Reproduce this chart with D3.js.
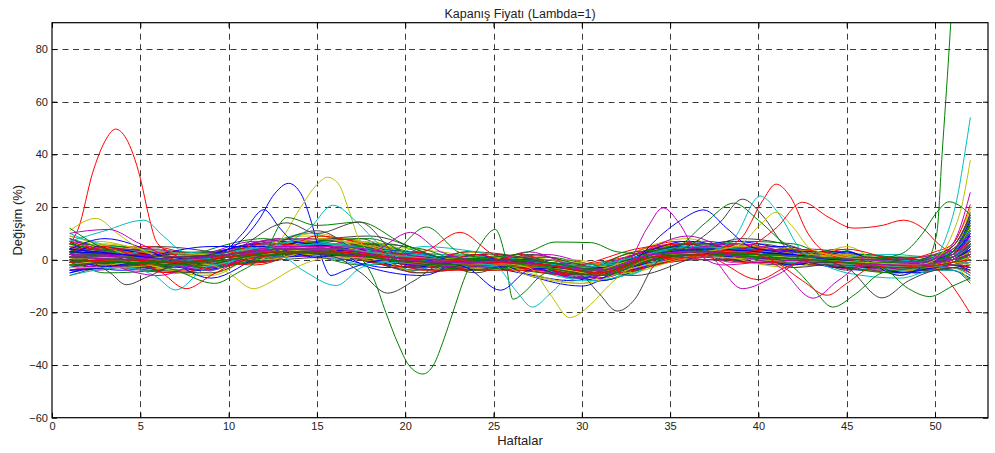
<!DOCTYPE html>
<html>
<head>
<meta charset="utf-8">
<script src="https://cdn.jsdelivr.net/npm/d3@7"></script>
<style>
  body { margin: 0; background: #fff; }
</style>
</head>
<body>
<script>
const TITLE = 'Kapanış Fiyatı (Lambda=1)';
const X_LABEL = 'Haftalar';
const Y_LABEL = 'Değişim (%)';

const X_TICKS = [0, 5, 10, 15, 20, 25, 30, 35, 40, 45, 50];
const Y_TICKS = [-60, -40, -20, 0, 20, 40, 60, 80];

const BAND_WEEKS = [1, 4, 7, 10, 13, 16, 19, 22, 25, 28, 31, 34, 37, 40, 43, 46, 49, 51, 52];

const BAND_VALUES = [
  [ 3,  2,  0,  2,  5,  6,  3,  0,  0, -1, -4,  2,  4,  3,  2,  0, -1,  1,  6],
  [-1, -2, -3, -1,  2,  3,  0, -2, -2, -3, -6,  0,  2,  1,  0, -2, -3, -2,  0],
  [ 5,  3,  1,  3,  6,  5,  2,  1,  0, -1, -3,  3,  5,  3,  2,  1, -1,  2,  9],
  [ 0,  0, -2,  0,  3,  4,  1, -1, -1, -3, -6,  1,  2,  2,  0, -1, -3, -1,  2],
  [ 2,  1, -1,  2,  5,  3,  2,  0, -1, -2, -5,  2,  3,  1,  1,  0, -2,  1,  7],
  [-3, -2, -4, -2,  1,  2, -1, -3, -2, -4, -7, -1,  1,  0, -1, -3, -4, -3, -4],
  [ 4,  4,  2,  2,  6,  7,  4,  1,  1, -1, -3,  3,  5,  4,  3,  1,  0,  2, 10],
  [ 1,  0, -1,  1,  4,  4,  2, -1,  0, -2, -5,  1,  3,  2,  1, -1, -2,  0,  3],
  [ 6,  5,  2,  4,  8,  7,  3,  1,  1,  0, -2,  4,  6,  4,  3,  2,  0,  3, 12],
  [-2, -1, -3, -1,  2,  2,  0, -2, -2, -3, -6,  0,  1,  1,  0, -2, -3, -2, -1],
  [ 2,  2,  0,  1,  4,  5,  2,  0, -1, -2, -4,  2,  4,  3,  1,  0, -1,  1,  5],
  [ 0, -1, -2,  0,  3,  3,  0, -1,  0, -2, -5,  1,  2,  1,  0, -1, -2,  0,  1],
  [ 3,  3,  1,  2,  5,  5,  3,  1,  0, -1, -4,  2,  4,  3,  2,  0, -1,  1,  8],
  [-4, -3, -5, -2,  0,  1, -2, -4, -3, -4, -8, -2,  0, -1, -2, -3, -5, -3, -6],
  [ 1,  1, -1,  1,  4,  4,  1, -1, -1, -2, -5,  2,  3,  2,  1, -1, -2,  0,  4],
  [ 4,  2,  0,  3,  6,  5,  2,  0,  0, -1, -4,  3,  4,  2,  2,  0, -1,  2,  8],
  [-1,  0, -2,  0,  3,  3,  1, -1, -1, -3, -6,  0,  2,  2,  0, -1, -3, -1,  1],
  [ 2,  1,  0,  2,  5,  6,  2,  0,  0, -2, -4,  2,  3,  2,  1,  0, -2,  0,  5],
  [ 7,  4,  1,  3,  7,  6,  3,  2,  1,  0, -3,  3,  5,  4,  3,  1,  0,  3, 14],
  [ 0,  1, -1,  0,  3,  4,  1, -1, -1, -2, -5,  1,  3,  1,  0, -1, -2, -1,  2],
  [-2,  1,  2, -1,  1,  6,  4, -2, -3,  0, -4, -1,  4,  5, -1, -3,  0,  2,  3],
  [ 4, -1, -3,  3,  7,  2, -1,  1,  2, -3, -7,  3,  2, -1,  2,  1, -3, -2, -3],
  [ 1,  4,  1, -2,  2,  8,  5,  0, -2, -4, -3,  4,  6,  1, -2,  0,  1,  3, 11],
  [ 6,  1, -4, -2,  6,  4, -2, -3,  1,  1, -6, -2,  1,  4,  3, -2, -4,  1,  6],
  [-3,  0,  3,  2,  2,  3,  3,  1, -3, -5, -8,  0,  5,  2,  0,  2, -1, -1, -2],
  [ 2, -2, -2,  4,  8,  5,  0, -4, -1,  2, -2,  2,  0,  1,  4,  1, -2,  0,  2],
  [ 0,  3,  0, -1,  5,  7,  2,  2,  0, -3, -6,  5,  3,  0,  1, -2, -3,  2, 13],
  [ 5,  2,  3,  1,  1,  5,  6,  0, -2, -1, -4, -1,  2,  6,  2, -1, -1, -1,  4],
  [-5, -1, -2,  1,  4,  1, -3, -1,  1, -2, -7,  2,  4,  3, -1, -4, -3, -4, -7],
  [ 3,  5,  2,  0,  3,  6,  3, -3, -4, -2, -3,  3,  7,  3,  0,  1,  1,  4, 16],
  [ 1, -3, -5,  0,  6,  7,  1,  1,  2, -1, -5,  0,  1,  2,  3,  0, -4, -2,  1],
  [ 8,  3,  0,  2,  4,  3,  2,  0,  0, -3, -6,  1,  4,  1,  0, -1, -2,  0,  5],
  [-2,  2,  1,  3,  5,  2, -1, -2, -2, -4, -5,  3,  3,  4,  2, -2, -3,  1,  8],
  [ 2,  0, -3, -1,  3,  7,  5,  3,  0, -1, -4,  1,  2,  0, -1,  0, -1,  0,  2],
  [ 4,  3,  0,  4,  7,  4,  0, -2,  1,  0, -3,  4,  5,  3,  1, -1, -3,  3, 18],
  [-1, -4, -2,  2,  1,  2,  2, -1, -3, -3, -8, -2,  2,  3,  1, -3, -5, -2, -5],
  [ 0,  2,  3,  0,  4,  5,  0, -3, -1,  1, -2,  2,  4,  0,  2,  2,  0,  1,  6],
  [ 3,  1, -2,  1,  6,  8,  4,  0, -2, -4, -7,  0,  3,  5,  3,  0, -2, -1,  3],
  [ 9,  4, -1,  0,  2,  4,  3,  2,  0, -2, -5,  2,  1,  2,  0, -2, -3,  0,  7],
  [-4, -2,  0,  3,  6,  3,  1,  0, -1, -2, -4,  3,  5,  2, -1, -1, -2,  2, 10],
  [ 1,  3,  1, -1,  2,  4,  2, -1,  1, -1, -6,  1,  3,  3,  2, -1, -4, -3, -8],
  [ 5,  0, -2,  2,  5,  6,  3,  1, -1, -3, -5,  1,  2,  1,  0, -3, -2,  1,  9],
  [-1,  1, -1,  1,  3,  3,  1,  0, -2, -3, -6,  2,  4,  4,  2,  0, -1,  2, 12],
  [ 2,  2,  0,  2,  4,  5,  2, -1,  0, -1, -4,  1,  3,  2,  1, -1, -3, -1,  0],
  [ 0, -1, -1,  0,  2,  4,  2,  1,  0, -2, -5,  0,  2,  1,  0, -2, -3,  0,  4],
  [ 3,  0, -2,  1,  5,  5,  1, -2, -1, -2, -6,  2,  3,  2,  1,  0, -2,  1, 15],
  [-2, -3, -3,  0,  3,  2,  0, -1, -1, -4, -7,  0,  2,  2, -1, -2, -4, -2, -3],
  [ 4,  2,  1,  2,  5,  6,  3,  1,  1, -1, -3,  2,  4,  3,  2,  1, -1,  2, 20],
  [ 1,  0, -2,  1,  4,  4,  2,  0, -1, -2, -4,  2,  3,  1,  1, -1, -2,  0,  6],
  [ 2,  1,  0,  0,  4,  5,  1, -1, -1, -3, -5,  1,  2,  2,  0, -1, -1,  1, 10]
];

// a second set of band curves, read at weeks in between
const BAND_WEEKS_B = [1, 2.5, 5.5, 8.5, 11.5, 14.5, 17.5, 20.5, 23.5, 26.5, 29.5, 32.5, 35.5, 38.5, 41.5, 44.5, 47.5, 50, 51, 52];

const BAND_VALUES_B = [
  [ 6,  4,  3, -3,  0,  8,  5, -4,  2, -3, -1, -6,  4,  6, -2,  3, -4,  1,  3,  9],
  [-3, -1,  4,  2,  6,  1,  0,  3, -4,  2, -7,  1,  6, -1,  4, -3,  1, -3, -2, -1],
  [ 2,  6, -2, -5,  5,  9,  7,  1, -3, -4,  0, -4,  1,  5,  3, -2, -5,  0,  4, 12],
  [ 4, -2,  1,  3, -1,  5,  8, -3,  3,  1, -6, -3,  5,  2, -1,  2,  0, -2, -1,  2],
  [-5, -3, -1, -4,  1,  7,  2,  2, -1, -5, -8,  0,  3,  7,  4, -1, -3, -1,  1,  6],
  [ 8,  5,  2,  0,  4,  2, -2, -1,  1,  0, -2, -5,  2,  3,  0,  4, -2,  2,  5, 16],
  [ 0,  3,  5,  1, -2,  4,  6, -5, -3,  2, -4,  2,  7,  1,  2, -3, -4, -3, -3, -5],
  [ 3,  0, -4, -3,  4, 10,  4,  0,  2, -2, -7, -1,  3,  4,  3,  1,  2,  1,  2,  8],
  [-2, -4,  0,  2,  7,  3,  1,  3, -2, -3, -5, -3,  0,  2,  1, -2, -3, -2,  0,  3],
  [ 5,  7,  3, -2,  1,  6,  3, -2,  0,  1, -1, -2,  4,  6,  2,  2,  0,  2,  6, 19],
  [ 1, -1, -3,  0,  3,  5,  6,  2, -4, -2, -6,  0,  5,  0, -2, -1, -5, -4, -4, -9],
  [ 7,  2,  0, -4,  2,  7,  1, -3,  1, -1, -3, -4,  2,  4,  5,  0, -1,  0,  2, 11],
  [-1,  2,  3,  1,  5,  2,  4,  1, -2, -4, -6, -2,  3,  1,  0,  1, -2, -1,  1,  5],
  [ 3,  5, -1, -2,  0,  5,  2, -2,  3,  0, -2,  1,  6,  3, -1, -2, -3,  1,  3, 13],
  [10,  6,  1, -3,  3,  6,  4,  0, -1, -2, -4, -3,  1,  5,  2,  0,  0, -1,  0,  4],
  [-4, -2,  2,  0,  4,  4,  2, -1, -3, -1, -5, -1,  4,  2,  1, -1, -4, -2, -1,  1],
  [ 2,  1, -2, -6,  1,  8,  6,  2,  0, -3, -2, -5,  0,  3,  3,  2, -2,  0,  2,  7],
  [ 4,  3,  4,  2,  2,  3,  0, -4, -2,  1, -6,  0,  3,  0,  0, -1, -1,  1,  4, 10],
  [ 0, -2, -2,  1,  6,  5,  3,  1,  1, -2, -4, -2,  5,  4,  2, -3, -3, -2, -2, -3],
  [ 6,  4,  1, -1,  2,  4,  5,  1, -1, -1, -3, -1,  2,  3,  1,  1, -1,  1,  3, 14],
  [-2,  0,  2, -2,  3,  6,  2, -2,  0, -3, -5, -3,  3,  5,  3,  0, -2, -1,  0,  3],
  [ 3,  1, -1,  0,  5,  7,  4,  2,  0, -1, -2,  0,  4,  2,  0, -2, -4, -3, -3, -6],
  [ 1,  3,  1, -3,  1,  3,  3,  0, -2,  0, -6, -4,  1,  4,  2,  1,  0,  2,  5, 17],
  [ 5,  2,  3,  1,  4,  2,  0, -1,  1, -2, -3, -2,  4,  1,  1,  0, -2, -1,  1,  6],
  [-3, -1, -1, -2,  2,  5,  4,  1, -1, -2, -5, -1,  2,  3,  0, -1, -3, -2, -1,  2],
  [ 2,  5,  2,  0,  3,  5,  2, -2, -2,  0, -3, -3,  3,  4,  3,  1, -1,  0,  3,  9],
  [ 4,  0, -2, -2,  3,  6,  5,  1,  0, -2, -4,  0,  3,  1,  0, -1, -2,  0,  2,  7],
  [-1,  1,  3,  1,  1,  3,  1, -1, -1, -1, -5, -3,  2,  3,  2,  0, -2, -2, -2, -1],
  [ 3,  2,  0, -1,  4,  5,  3,  0,  0, -1, -3, -1,  3,  2,  1,  0, -1,  1,  3, 11],
  [ 0,  1, -1, -1,  2,  4,  2,  0, -1, -2, -4, -2,  2,  2,  1, -1, -2, -1,  0,  5]
];

// a third, looser set of band curves
const BAND_WEEKS_C = [1, 3, 6, 9, 12, 15, 18, 21, 24, 27, 30, 33, 36, 39, 42, 45, 48, 50, 51, 52];

const BAND_VALUES_C = [
  [ 9,  5, -3, -6,  5, 10,  2, -5,  3, -5, -9,  3,  8,  0, -3,  5, -6,  2,  4, 12],
  [-6, -2,  5,  3, -1,  7,  9,  3, -5,  2, -2, -6,  0,  8,  5, -4,  1, -4, -3, -2],
  [ 4,  8,  2, -7,  2,  6, -3, -6,  2, -6,-10,  1,  7,  3, -2,  3, -6,  0,  3, 15],
  [ 1, -5, -4,  4,  8,  3,  6,  4, -2,  1, -6, -4,  2,  7,  6, -3, -5, -2,  0,  6],
  [ 7,  4,  4, -2, -1,  9,  5, -4, -4, -4, -2,  4,  6, -1, -1,  4,  0,  3,  6, 21],
  [-3,  3, -1, -4,  6,  2, -2,  5,  3, -1, -8, -5,  5,  4,  2, -5, -7, -4, -4, -8],
  [ 5, -1, -6,  1,  7,  8,  3, -2, -3,  3, -3,  2,  9,  2,  0,  2, -3,  1,  2,  9],
  [ 0,  6,  3,  2,  0,  4,  7,  0,  1, -6, -9, -3,  1,  5,  4,  1, -4, -1,  1,  5],
  [ 3,  2, -4, -5,  4, 11,  0, -5, -1,  0, -5,  0,  6,  6, -3, -1, -2,  2,  5, 17],
  [-4, -3,  2,  5,  5,  1,  4,  2, -2, -3, -7, -2,  3,  1,  3,  3, -5, -3, -2, -4],
  [ 6,  3,  0, -3,  1,  7,  8, -1, -4, -2, -4,  3,  4,  4,  1, -2, -1,  0,  3, 13],
  [ 2,  5, -2,  0,  6,  5, -1, -3,  2, -4, -6, -4,  1,  3,  4,  1, -3, -2, -1,  1],
  [-2,  0,  4, -2,  3,  6,  4,  2, -3, -1, -3,  1,  5,  1, -1,  0, -4, -1,  1,  7],
  [ 8,  3, -1, -4,  4,  3,  1, -2,  0, -3, -7, -2,  4,  6,  2, -2, -2,  1,  4, 10],
  [ 1, -2,  1,  2,  2,  8,  5, -1, -1, -2, -5,  0,  2,  2,  0,  2, -3, -1,  0,  3]
];

// curves that leave the band, as [week, value] pairs
const OUTLIER_POINTS = [
  // red spike near week 3.6
  [[1,6],[1.5,12],[2.3,33],[3,45],[3.6,49.6],[4.2,46],[5,31],[5.5,16],[5.9,7],[6.6,3],[8,0],[10,2],[13,5],[16,3],[19,2],[22,0],[25,-1],[28,-2],[31,-4],[34,2],[37,3],[40,1],[43,0],[46,-1],[49,-2],[51,1],[52,5]],
  // green dip near week 21
  [[1,0],[4,-1],[7,-2],[10,1],[13,3],[16,2],[17.5,0],[18.2,-7],[18.9,-20],[19.6,-32],[20.2,-40],[21,-43.4],[21.6,-40],[22.2,-30],[22.7,-20],[23.3,-8],[24.2,5],[25.1,11.5],[25.6,3],[26.1,-15],[26.8,-12],[27.6,-6.5],[29,-3],[31,-5],[34,1],[37,2],[40,1],[43,0],[46,-2],[49,-3],[51,-1],[52,1]],
  // blue peak near week 13.4
  [[1,4],[4,2],[7,0],[9,2],[10.5,6],[11.7,15],[12.6,25],[13.4,29],[14.1,25],[14.7,14],[15.2,2],[15.8,-6],[16.6,-4],[19,0],[22,-1],[25,0],[28,-1],[31,-4],[34,2],[37,4],[40,3],[43,1],[46,0],[49,-1],[51,1],[52,6]],
  // blue peak near week 12
  [[1,1],[4,0],[7,-1],[9.5,2],[10.8,10],[12,19],[12.9,12],[13.7,7],[16,5],[19,2],[22,0],[25,-1],[28,-3],[31,-6],[34,0],[37,2],[40,2],[43,0],[46,-1],[49,-2],[51,0],[52,3]],
  // yellow peak near week 15.6
  [[1,-1],[4,1],[7,-2],[10,1],[12,3],[13,8],[14,19],[15,28.5],[15.6,31.3],[16.2,29],[16.8,19],[17.3,9],[18,3],[19,1],[22,-2],[25,-1],[28,-2],[31,-6],[34,1],[37,3],[40,3],[43,2],[46,0],[49,-2],[51,0],[52,2]],
  // yellow bump near week 2.5
  [[1,11],[2.5,15.7],[3.7,10],[5,4],[7,0],[10,1],[13,4],[16,5],[19,1],[22,-1],[25,-2],[28,-3],[31,-5],[34,2],[37,2],[40,1],[43,1],[46,-1],[49,-2],[51,-1],[52,1]],
  // yellow dip near week 11.4
  [[1,-3],[4,-3],[7,-1],[9,-2],[10,-5],[11.4,-11],[12.5,-8],[13.5,-4],[16,1],[19,0],[22,-2],[25,-2],[28,-3],[31,-6],[34,0],[37,1],[40,0],[43,-1],[46,-2],[49,-3],[51,-1],[52,-2]],
  // cyan bump near week 5
  [[1,7],[3,11],[5.2,15],[6.3,9],[7.5,3],[10,2],[13,5],[16,6],[19,2],[22,0],[25,0],[28,-1],[31,-4],[34,2],[37,4],[40,2],[43,1],[46,0],[49,-1],[51,1],[52,5]],
  // cyan peak near week 16
  [[1,-1],[4,0],[7,-2],[10,3],[13,6],[14.6,12],[15.9,20.7],[17.3,14],[18.5,6],[20,0],[22,-1],[25,-1],[28,-2],[31,-5],[34,1],[37,3],[40,2],[43,0],[46,-1],[49,-2],[51,0],[52,3]],
  // cyan dips near weeks 7 and 16
  [[1,-6],[4,-3],[5.8,-6],[7,-11.5],[8.5,-4],[10,1],[13,1],[14.2,-4],[16.1,-9.8],[17.5,-3],[19,-1],[22,-2],[25,-1],[28,-3],[31,-6],[34,0],[37,2],[40,1],[43,0],[46,-2],[49,-3],[51,-2],[52,-1]],
  // gray dip near week 4
  [[1,2],[2.3,-1],[3.3,-5],[4.2,-9.5],[5.4,-6.5],[7,-2],[10,0],[13,3],[16,4],[19,1],[22,-1],[25,0],[28,-2],[31,-5],[34,1],[37,2],[40,1],[43,0],[46,-1],[49,-2],[51,0],[52,2]],
  // red dips near weeks 7.6 and 40
  [[1,-2],[4,-1],[6,-4],[7.6,-11],[9,-6],[10.5,-1],[13,2],[16,3],[19,0],[22,-2],[25,-2],[28,-3],[31,-6],[34,0],[37,1],[40,-7.6],[41.5,-3],[43,0],[46,-2],[49,-3],[51,-2],[52,-3]],
  // green dip near week 9, high around 13-17
  [[1,12],[3,4],[5,0],[7,-4],[9.2,-9],[10.5,-5],[12,2],[13.3,16],[15,13],[17.4,14.3],[19.9,6],[22,1],[25,0],[28,-1],[31,-4],[34,2],[37,3],[40,2],[43,1],[46,-1],[49,-2],[51,1],[52,6]],
  // magenta bump near week 3
  [[1,10],[2,11],[3.2,11.5],[5,6],[7,1],[10,2],[13,5],[16,5],[19,3],[22,0],[25,-1],[28,-2],[31,-4],[34,2],[37,3],[40,2],[43,1],[46,-1],[49,-1],[51,1],[52,7]],
  // gray bumps near weeks 13 and 17
  [[1,-1],[4,2],[7,1],[10,3],[13.3,14],[15,10],[17.4,14.3],[19,5],[20,-3],[21,-2],[22.5,-1],[25,0],[28,-2],[31,-5],[34,1],[37,2],[40,1],[43,0],[46,-1],[49,-2],[51,0],[52,1]],
  // gray dip near week 19
  [[1,3],[4,1],[7,0],[10,2],[13,3],[16,1],[17.5,-5],[19,-12.7],[20.5,-8],[22,-2],[25,-1],[28,-3],[31,-6],[34,0],[37,2],[40,1],[43,0],[46,1],[49,-1],[51,0],[52,2]],
  // magenta bump near week 20, dip near week 39
  [[1,0],[4,1],[7,-1],[10,0],[13,3],[16,3],[18,3],[20.3,10.4],[22,3],[25,-1],[28,-2],[31,-5],[34,1],[37,2],[39.1,-11],[41,-6],[42.5,-1],[46,-1],[49,-2],[51,0],[52,3]],
  // green bump near week 21
  [[1,3],[4,1],[7,0],[10,2],[13,4],[16,3],[19,2],[21.2,12.4],[23,3],[25,0],[28,-2],[31,-4],[34,2],[37,3],[40,2],[43,1],[46,0],[49,-2],[51,0],[52,4]],
  // red bump near week 23
  [[1,1],[4,0],[7,-1],[10,1],[13,4],[16,4],[19,2],[21,3],[23.1,10.4],[25,2],[28,-2],[31,-5],[34,1],[37,2],[40,2],[43,1],[46,-1],[49,-2],[51,0],[52,3]],
  // blue dip near week 25
  [[1,2],[4,1],[7,-1],[10,1],[13,3],[16,3],[19,1],[22,-1],[23.5,-3],[25.4,-11.6],[27,-4],[28.5,-3],[31,-5],[34,2],[37,4],[40,3],[43,1],[46,-1],[49,-2],[51,0],[52,5]],
  // cyan dip near week 27
  [[1,0],[4,1],[7,-1],[10,1],[13,4],[16,3],[19,1],[22,-1],[25,-2],[26.3,-12],[27.2,-18],[28.2,-13],[29.5,-6],[31,-6],[34,1],[37,3],[40,2],[43,0],[46,-1],[49,-2],[51,0],[52,2]],
  // yellow dip near week 29
  [[1,1],[4,0],[7,-2],[10,0],[13,3],[16,4],[19,2],[22,0],[25,-1],[27,-3],[28.3,-14],[29.3,-22],[30.5,-17],[31.5,-10],[33,-2],[35,2],[37,3],[40,2],[43,0],[46,-2],[49,-3],[51,-1],[52,1]],
  // gray dip near week 32
  [[1,0],[4,1],[7,-1],[10,1],[13,4],[16,4],[19,1],[22,-1],[25,-1],[28,-2],[30,-6],[31,-13],[32,-19.5],[33,-15],[34,-3],[35.5,4],[37,3],[40,2],[43,1],[46,-1],[49,-2],[51,0],[52,2]],
  // magenta peak near week 34.6
  [[1,1],[4,2],[7,0],[10,1],[13,4],[16,4],[19,1],[22,0],[25,0],[28,-2],[31,-5],[32.5,-2],[33.7,12],[34.6,19.7],[35.5,14],[36.5,3],[38,-2],[40,-1],[43,0],[46,-1],[49,-2],[51,0],[52,3]],
  // green plateau near week 29
  [[1,-1],[4,0],[7,-1],[10,1],[13,3],[16,3],[19,1],[22,0],[25,1],[27,3],[28.5,6.7],[30.5,6.5],[32,3],[34,2],[37,3],[40,2],[43,1],[46,-1],[49,-2],[51,0],[52,4]],
  // red peak near week 41
  [[1,2],[4,1],[7,0],[10,1],[13,4],[16,4],[19,2],[22,0],[25,0],[28,-2],[31,-4],[34,2],[37,2],[39,8],[40.2,22],[41,28.7],[41.8,24],[42.8,10],[44,2],[46,-1],[49,-2],[51,0],[52,4]],
  // cyan peak near week 40
  [[1,1],[4,0],[7,-1],[10,1],[13,3],[16,3],[19,1],[22,-1],[25,-1],[28,-2],[31,-5],[34,2],[37,3],[38.6,8],[40.1,24.2],[41.2,17],[42.5,3],[44,-1],[46,-2],[49,-3],[51,-1],[52,2]],
  // gray peak near week 39
  [[1,1],[4,1],[7,-1],[10,1],[13,3],[16,3],[19,1],[22,-1],[25,-1],[28,-2],[31,-5],[34,1],[36,5],[37.8,14],[39.1,23],[40.2,17],[41.5,5],[43,-1],[46,-1],[49,-2],[51,0],[52,2]],
  // green peak near week 38.6
  [[1,2],[4,1],[7,0],[10,2],[13,4],[16,3],[19,1],[22,-1],[25,0],[28,-2],[31,-4],[34,2],[35.5,5],[37,14],[38.6,21.5],[40,15],[41.5,6],[43,1],[46,-1],[49,-2],[51,0],[52,3]],
  // blue peak near week 37
  [[1,3],[4,2],[7,0],[10,1],[13,4],[16,4],[19,1],[22,-1],[25,0],[28,-2],[31,-5],[33,0],[34.6,10],[35.6,15],[36.9,18.9],[38.2,12],[39.5,5],[41,3],[43,1],[46,-1],[49,-2],[51,0],[52,4]],
  // yellow peak near week 41
  [[1,0],[4,1],[7,-1],[10,1],[13,3],[16,3],[19,1],[22,-1],[25,-1],[28,-2],[31,-5],[34,1],[37,3],[39,6],[40.2,14],[41,18],[42,12],[43,4],[46,0],[49,-2],[51,0],[52,3]],
  // red high run weeks 42-50
  [[1,2],[4,1],[7,-1],[10,1],[13,4],[16,4],[19,1],[22,-1],[25,-1],[28,-2],[31,-5],[34,2],[37,3],[39,4],[41,12],[42.5,21.8],[44,16],[45.4,12],[47,13],[48.2,15],[49.3,12],[50.2,6],[51,3],[52,7]],
  // red falling at the end
  [[1,0],[4,-1],[7,-2],[10,0],[13,3],[16,3],[19,0],[22,-1],[25,-1],[28,-3],[31,-6],[34,1],[37,2],[40,1],[43,0],[46,-2],[48,-3],[49.5,-2],[50.5,-6],[51.3,-13],[52,-20.5]],
  // green shooting up at the end
  [[1,1],[4,0],[7,-1],[10,1],[13,3],[16,3],[19,1],[22,-1],[25,-1],[28,-2],[31,-5],[34,1],[37,2],[40,1],[43,0],[46,-1],[48,-1],[49.5,0],[50.1,10],[50.4,40],[50.8,80],[51.2,125],[52,210]],
  // cyan rising at the end
  [[1,2],[4,1],[7,0],[10,1],[13,4],[16,4],[19,2],[22,0],[25,-1],[28,-2],[31,-4],[34,2],[37,3],[40,2],[43,1],[46,0],[49,-1],[50,1],[50.7,10],[51.3,25],[51.7,41],[52,54]],
  // yellow rising at the end
  [[1,-2],[4,0],[7,-2],[10,0],[13,3],[16,3],[19,1],[22,-1],[25,-1],[28,-3],[31,-5],[34,1],[37,2],[40,1],[43,0],[46,-1],[49,-2],[50,0],[51,10],[51.5,20],[52,37.8]],
  // magenta rising at the end
  [[1,1],[4,0],[7,-1],[10,1],[13,4],[16,3],[19,1],[22,0],[25,0],[28,-2],[31,-5],[34,2],[37,3],[40,2],[43,1],[46,0],[49,-1],[50.5,2],[51.3,10],[52,25.6]],
  // green arc at the end
  [[1,2],[4,1],[7,-1],[10,1],[13,3],[16,3],[19,1],[22,-1],[25,0],[28,-1],[31,-4],[34,1],[37,2],[40,2],[43,1],[46,0],[48,2],[49.3,10],[50.1,18],[50.8,22],[51.5,20],[52,17]],
  // gray dip near week 47
  [[1,-1],[4,0],[7,-2],[10,0],[13,3],[16,3],[19,0],[22,-1],[25,-1],[28,-2],[31,-5],[34,1],[37,2],[40,1],[43,0],[45,-3],[47,-14.5],[48.5,-8],[50,-4],[51,-3],[52,-4]],
  // green dip near week 44
  [[1,0],[4,-1],[7,-1],[10,0],[13,3],[16,2],[19,1],[22,-1],[25,-1],[28,-2],[31,-5],[34,1],[37,3],[40,2],[42,-3],[43,-10],[44.2,-18],[45.5,-13],[47,-5],[49,-3],[51,-1],[52,2]],
  // green dip near week 49.7
  [[1,-2],[4,-1],[7,-2],[10,1],[13,2],[16,3],[19,0],[22,-2],[25,-1],[28,-3],[31,-6],[34,0],[37,2],[40,1],[43,0],[45,-1],[47,-3],[48.5,-11],[49.7,-14],[51,-10],[52,-7]],
  // magenta dip near week 43
  [[1,2],[4,1],[7,0],[10,2],[13,4],[16,4],[19,1],[22,-1],[25,-1],[28,-2],[31,-4],[34,2],[37,3],[39,1],[41,-2],[43.1,-14.6],[44.5,-8],[46,-2],[49,-2],[51,0],[52,2]],
  // red dip near week 44
  [[1,-1],[4,0],[7,-1],[10,1],[13,3],[16,3],[19,1],[22,0],[25,-1],[28,-2],[31,-5],[34,1],[37,2],[39,3],[41,-1],[42.5,-8],[43.9,-13.5],[45,-9],[46.5,-3],[49,-3],[51,-1],[52,0]]
];

const OUTLIER_COLOR_KEYS = [
  'r', 'g', 'b', 'b', 'y', 'y', 'y', 'c', 'c', 'c', 'k', 'r', 'g', 'm', 'k', 'k',
  'm', 'g', 'r', 'b', 'c', 'y', 'k', 'm', 'g', 'r', 'c', 'k', 'g', 'b', 'y', 'r',
  'r', 'g', 'c', 'y', 'm', 'g', 'k', 'g', 'g', 'm', 'r'
];

// MATLAB default line colour order
const COLOR_ORDER = {
  b: '#0000ff', g: '#008000', r: '#ff0000', c: '#00bfbf',
  m: '#bf00bf', y: '#bfbf00', k: '#404040'
};
const BAND_CYCLE = ['b', 'g', 'r', 'c', 'm', 'y', 'k'];

const WIDTH = 995;
const HEIGHT = 453;
const FONT = '"Liberation Sans", Arial, Helvetica, sans-serif';

const margin = {top: 22.7, right: 7, bottom: 35.3, left: 52};

const svg = d3.select('body').append('svg')
  .attr('width', WIDTH)
  .attr('height', HEIGHT)
  .style('display', 'block');

const x = d3.scaleLinear()
  .domain([0, 53])
  .range([margin.left, WIDTH - margin.right]);

const y = d3.scaleLinear()
  .domain([-60, 90])
  .range([HEIGHT - margin.bottom, margin.top]);

const crisp = v => Math.round(v) + 0.5;

// grid
const grid = svg.append('g')
  .attr('stroke', '#3a3a3a')
  .attr('stroke-width', 1)
  .attr('stroke-dasharray', '6,4.5');

grid.selectAll('line.vx')
  .data(X_TICKS.filter(d => d > 0))
  .join('line')
  .attr('class', 'vx')
  .attr('x1', d => crisp(x(d)))
  .attr('x2', d => crisp(x(d)))
  .attr('y1', y(-60))
  .attr('y2', y(90));

grid.selectAll('line.hy')
  .data(Y_TICKS.filter(d => d > -60))
  .join('line')
  .attr('class', 'hy')
  .attr('x1', x(0))
  .attr('x2', x(53))
  .attr('y1', d => crisp(y(d)))
  .attr('y2', d => crisp(y(d)));

// curves
svg.append('clipPath')
  .attr('id', 'plot-clip')
  .append('rect')
  .attr('x', x(0))
  .attr('y', y(90))
  .attr('width', x(53) - x(0))
  .attr('height', y(-60) - y(90));

const line = d3.line()
  .x(d => x(d[0]))
  .y(d => y(d[1]))
  .curve(d3.curveMonotoneX);

const bandSeries = (weeks, rows, start) => rows.map((vals, i) => ({
  pts: vals.map((v, j) => [weeks[j], v]),
  colour: COLOR_ORDER[BAND_CYCLE[(start + i) % BAND_CYCLE.length]]
}));

const series = [
  ...bandSeries(BAND_WEEKS, BAND_VALUES, 0),
  ...bandSeries(BAND_WEEKS_B, BAND_VALUES_B, 3),
  ...bandSeries(BAND_WEEKS_C, BAND_VALUES_C, 5),
  ...OUTLIER_POINTS.map((pts, i) => ({
    pts,
    colour: COLOR_ORDER[OUTLIER_COLOR_KEYS[i]]
  }))
];

svg.append('g')
  .attr('clip-path', 'url(#plot-clip)')
  .selectAll('path')
  .data(series)
  .join('path')
  .attr('fill', 'none')
  .attr('stroke', d => d.colour)
  .attr('stroke-width', 1)
  .attr('stroke-linejoin', 'round')
  .attr('d', d => line(d.pts));

// axes, ticks pointing inward on all four sides
function styleAxis(g) {
  g.select('.domain').remove();
  g.attr('font-family', FONT).attr('font-size', 11);
  g.selectAll('.tick line').attr('stroke', '#000');
  g.selectAll('.tick text').attr('fill', '#222');
}

svg.append('g')
  .attr('transform', `translate(0, ${y(-60)})`)
  .call(d3.axisBottom(x).tickValues(X_TICKS).tickSize(-5).tickPadding(5))
  .call(styleAxis);

svg.append('g')
  .attr('transform', `translate(${x(0)}, 0)`)
  .call(d3.axisLeft(y).tickValues(Y_TICKS).tickSize(-5).tickPadding(4))
  .call(styleAxis);

svg.append('g')
  .attr('transform', `translate(0, ${y(90)})`)
  .call(d3.axisTop(x).tickValues(X_TICKS).tickSize(-5).tickFormat(''))
  .call(styleAxis);

svg.append('g')
  .attr('transform', `translate(${x(53)}, 0)`)
  .call(d3.axisRight(y).tickValues(Y_TICKS).tickSize(-5).tickFormat(''))
  .call(styleAxis);

// box
svg.append('rect')
  .attr('x', x(0))
  .attr('y', y(90))
  .attr('width', x(53) - x(0))
  .attr('height', y(-60) - y(90))
  .attr('fill', 'none')
  .attr('stroke', '#000')
  .attr('stroke-width', 1.2);

// labels
svg.append('text')
  .attr('x', (x(0) + x(53)) / 2)
  .attr('y', 17.5)
  .attr('text-anchor', 'middle')
  .attr('font-family', FONT)
  .attr('font-size', 12.5)
  .attr('fill', '#222')
  .text(TITLE);

svg.append('text')
  .attr('x', (x(0) + x(53)) / 2)
  .attr('y', 445)
  .attr('text-anchor', 'middle')
  .attr('font-family', FONT)
  .attr('font-size', 13)
  .attr('fill', '#222')
  .text(X_LABEL);

svg.append('text')
  .attr('transform', `translate(22, ${(y(-60) + y(90)) / 2}) rotate(-90)`)
  .attr('text-anchor', 'middle')
  .attr('font-family', FONT)
  .attr('font-size', 13)
  .attr('fill', '#222')
  .text(Y_LABEL);
</script>
</body>
</html>
